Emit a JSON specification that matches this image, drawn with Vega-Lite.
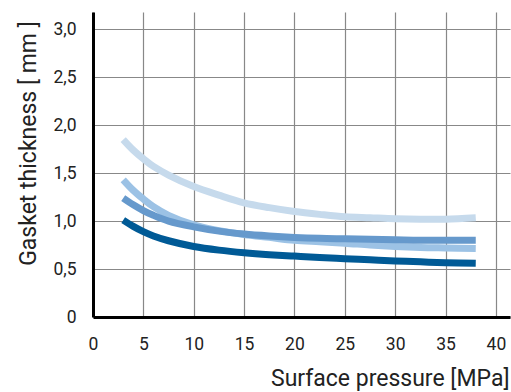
{
  "$schema": "https://vega.github.io/schema/vega-lite/v6.json",
  "autosize": "none",
  "width": 417,
  "height": 305,
  "padding": {"left": 93, "top": 12, "right": 1, "bottom": 75},
  "background": "white",
  "config": {
    "view": {"stroke": null},
    "font": "Roboto",
    "axis": {"grid": true, "gridColor": "#888888", "gridWidth": 1.2, "gridOpacity": 1, "tickSize": 0, "domainColor": "black", "domainWidth": 3}
  },
  "data": {
    "values": [
      {"s": "A", "p": 3, "t": 1.85}, {"s": "A", "p": 4, "t": 1.74}, {"s": "A", "p": 5, "t": 1.65}, {"s": "A", "p": 6, "t": 1.57}, {"s": "A", "p": 7.5, "t": 1.48}, {"s": "A", "p": 10, "t": 1.36}, {"s": "A", "p": 12.5, "t": 1.27}, {"s": "A", "p": 15, "t": 1.19}, {"s": "A", "p": 17.5, "t": 1.14}, {"s": "A", "p": 20, "t": 1.10}, {"s": "A", "p": 22.5, "t": 1.07}, {"s": "A", "p": 25, "t": 1.045}, {"s": "A", "p": 27.5, "t": 1.035}, {"s": "A", "p": 30, "t": 1.025}, {"s": "A", "p": 32.5, "t": 1.02}, {"s": "A", "p": 35, "t": 1.02}, {"s": "A", "p": 38, "t": 1.035},
      {"s": "B", "p": 3, "t": 1.43}, {"s": "B", "p": 4, "t": 1.32}, {"s": "B", "p": 5, "t": 1.23}, {"s": "B", "p": 6, "t": 1.15}, {"s": "B", "p": 7.5, "t": 1.06}, {"s": "B", "p": 10, "t": 0.96}, {"s": "B", "p": 12.5, "t": 0.90}, {"s": "B", "p": 15, "t": 0.86}, {"s": "B", "p": 17.5, "t": 0.83}, {"s": "B", "p": 20, "t": 0.80}, {"s": "B", "p": 22.5, "t": 0.785}, {"s": "B", "p": 25, "t": 0.77}, {"s": "B", "p": 27.5, "t": 0.75}, {"s": "B", "p": 30, "t": 0.735}, {"s": "B", "p": 32.5, "t": 0.725}, {"s": "B", "p": 35, "t": 0.72}, {"s": "B", "p": 38, "t": 0.715},
      {"s": "C", "p": 3, "t": 1.24}, {"s": "C", "p": 4, "t": 1.17}, {"s": "C", "p": 5, "t": 1.11}, {"s": "C", "p": 6, "t": 1.06}, {"s": "C", "p": 7.5, "t": 1.00}, {"s": "C", "p": 10, "t": 0.94}, {"s": "C", "p": 12.5, "t": 0.895}, {"s": "C", "p": 15, "t": 0.865}, {"s": "C", "p": 17.5, "t": 0.845}, {"s": "C", "p": 20, "t": 0.83}, {"s": "C", "p": 22.5, "t": 0.82}, {"s": "C", "p": 25, "t": 0.815}, {"s": "C", "p": 27.5, "t": 0.81}, {"s": "C", "p": 30, "t": 0.805}, {"s": "C", "p": 32.5, "t": 0.80}, {"s": "C", "p": 35, "t": 0.80}, {"s": "C", "p": 38, "t": 0.80},
      {"s": "D", "p": 3, "t": 1.01}, {"s": "D", "p": 4, "t": 0.945}, {"s": "D", "p": 5, "t": 0.89}, {"s": "D", "p": 6, "t": 0.845}, {"s": "D", "p": 7.5, "t": 0.795}, {"s": "D", "p": 10, "t": 0.735}, {"s": "D", "p": 12.5, "t": 0.697}, {"s": "D", "p": 15, "t": 0.67}, {"s": "D", "p": 17.5, "t": 0.65}, {"s": "D", "p": 20, "t": 0.635}, {"s": "D", "p": 22.5, "t": 0.62}, {"s": "D", "p": 25, "t": 0.608}, {"s": "D", "p": 27.5, "t": 0.596}, {"s": "D", "p": 30, "t": 0.585}, {"s": "D", "p": 32.5, "t": 0.575}, {"s": "D", "p": 35, "t": 0.566}, {"s": "D", "p": 38, "t": 0.56}
    ]
  },
  "mark": {"type": "line", "strokeWidth": 7, "interpolate": "catmull-rom", "strokeCap": "butt"},
  "encoding": {
    "x": {
      "field": "p", "type": "quantitative",
      "scale": {"domain": [0, 41.4], "nice": false, "zero": true},
      "axis": {
        "values": [0, 5, 10, 15, 20, 25, 30, 35, 40],
        "title": "Surface pressure [MPa]",
        "labelPadding": 18,
        "labelFontSize": 17.5, "labelColor": "#222",
        "labelFlush": false,
        "titleFontSize": 23, "titleFontWeight": "normal", "titleColor": "#222",
        "titleAnchor": "end", "titleAlign": "right", "titleBaseline": "middle", "titleX": 416, "titleY": 61
      }
    },
    "y": {
      "field": "t", "type": "quantitative",
      "scale": {"domain": [0, 3.18], "nice": false},
      "axis": {
        "values": [0, 0.5, 1, 1.5, 2, 2.5, 3],
        "labelExpr": "datum.value == 0 ? '0' : replace(format(datum.value, '.1f'), '.', ',')",
        "title": "Gasket thickness [ mm ]",
        "labelPadding": 17,
        "labelFontSize": 17.5, "labelColor": "#222",
        "labelFlush": false,
        "titleFontSize": 23, "titleFontWeight": "normal", "titleColor": "#222",
        "titleAngle": 270, "titleAlign": "center", "titleBaseline": "middle",
        "titleX": -65, "titleY": 131
      }
    },
    "color": {
      "field": "s", "type": "nominal", "legend": null,
      "scale": {"domain": ["A", "B", "C", "D"], "range": ["#c6daec", "#9cc2e5", "#6699cc", "#005a96"]}
    },
    "order": {"field": "s"}
  }
}
